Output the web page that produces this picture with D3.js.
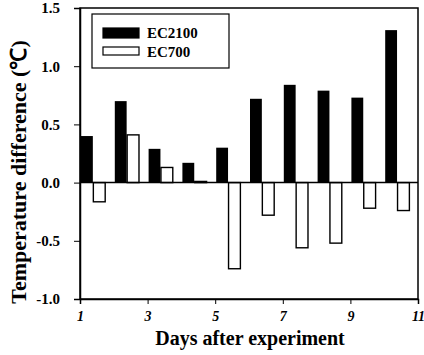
<!DOCTYPE html>
<html><head><meta charset="utf-8">
<script src="https://cdn.jsdelivr.net/npm/d3@7"></script>
<style>body{margin:0;background:#fff}svg{display:block}text{font-family:"Liberation Serif","Times New Roman",serif;font-weight:bold}</style>
</head><body>
<script>
const days = [1,2,3,4,5,6,7,8,9,10];
const ec2100 = [0.40,0.70,0.29,0.17,0.30,0.72,0.84,0.79,0.73,1.31];
const ec700 = [-0.165,0.41,0.13,0.01,-0.74,-0.28,-0.56,-0.52,-0.22,-0.24];
const xTicks = [1,3,5,7,9,11];
const yTicks = [-1.0,-0.5,0.0,0.5,1.0,1.5];
const seriesNames = ["EC2100","EC700"];

const W=424,H=355;
const svg=d3.select("body").append("svg").attr("width",W).attr("height",H);
const L=80,R=418,T=8,B=299;
const x=d3.scaleLinear().domain([1,11]).range([L,R]);
const y=d3.scaleLinear().domain([-1,1.5]).range([B,T]);
const bw=0.38;

// frame
svg.append("rect").attr("x",L).attr("y",T).attr("width",R-L).attr("height",B-T)
  .attr("fill","none").attr("stroke","#000").attr("stroke-width",1.5);

// bars
svg.selectAll(".b1").data(days).join("rect")
  .attr("x",d=>x(d)+1).attr("width",d=>x(d+bw)-x(d)-1)
  .attr("y",(d,i)=>y(Math.max(0,ec2100[i]))).attr("height",(d,i)=>Math.abs(y(ec2100[i])-y(0)))
  .attr("fill","#000");
svg.selectAll(".b2").data(days).join("rect")
  .attr("x",d=>x(d+bw)+0.5).attr("width",d=>x(d+2*bw)-x(d+bw)-1)
  .attr("y",(d,i)=>y(Math.max(0,ec700[i]))).attr("height",(d,i)=>Math.abs(y(ec700[i])-y(0)))
  .attr("fill","#fff").attr("stroke","#000").attr("stroke-width",1.4);

// zero line
svg.append("line").attr("x1",L).attr("x2",R).attr("y1",y(0)).attr("y2",y(0))
  .attr("stroke","#000").attr("stroke-width",1.5);

// axes
const ya=svg.append("g").attr("transform",`translate(${L},0)`)
  .call(d3.axisLeft(y).tickValues(yTicks).tickFormat(d3.format(".1f")).tickSize(6).tickPadding(14));
ya.select(".domain").attr("stroke-width",1.5);
ya.selectAll("text").attr("font-size",15).attr("fill","#000").text(d=>d3.format(".1f")(d).replace("−","-"));
const xa=svg.append("g").attr("transform",`translate(0,${B})`)
  .call(d3.axisBottom(x).tickValues(xTicks).tickFormat(d3.format("d")).tickSize(5).tickPadding(7));
xa.select(".domain").attr("stroke-width",1.5);
xa.selectAll("text").attr("font-size",14).attr("font-style","italic").attr("fill","#000");

// axis titles
svg.append("text").attr("x",250).attr("y",345).attr("text-anchor","middle")
  .attr("font-size",20).text("Days after experiment");
svg.append("text").attr("transform","translate(26,172) rotate(-90)").attr("text-anchor","middle")
  .attr("font-size",22).text("Temperature difference (℃)");

// legend
svg.append("rect").attr("x",92).attr("y",14).attr("width",137).attr("height",54)
  .attr("fill","#fff").attr("stroke","#000").attr("stroke-width",1.2);
const lg=svg.append("g");
lg.selectAll("rect").data(seriesNames).join("rect")
  .attr("x",103).attr("y",(d,i)=>i?47:28).attr("width",36).attr("height",(d,i)=>i?8:10)
  .attr("fill",(d,i)=>i?"#fff":"#000").attr("stroke","#000").attr("stroke-width",1.2);
lg.selectAll("text").data(seriesNames).join("text")
  .attr("x",147).attr("y",(d,i)=>i?57:38).attr("font-size",15).text(d=>d);
</script>
</body></html>
